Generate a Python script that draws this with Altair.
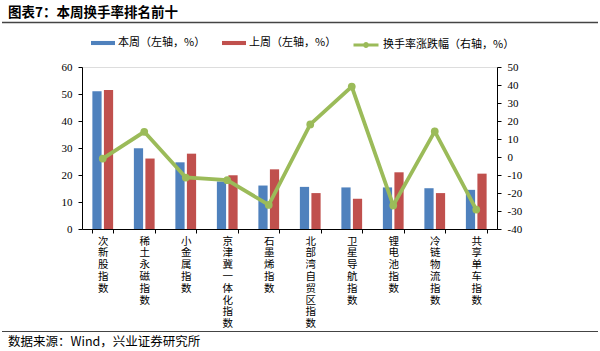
import altair as alt
import pandas as pd

# ---- data ----
categories = ["次新股指数", "稀土永磁指数", "小金属指数", "京津冀一体化指数", "石墨烯指数",
              "北部湾自贸区指数", "卫星导航指数", "锂电池指数", "冷链物流指数", "共享单车指数"]
this_week = [51.0, 29.9, 24.7, 17.6, 16.1, 15.6, 15.4, 15.4, 15.1, 14.5]
last_week = [51.5, 26.1, 27.9, 19.9, 22.1, 13.3, 11.2, 21.0, 13.3, 20.5]
change = [-0.9, 14.0, -11.4, -12.9, -26.6, 18.1, 39.1, -26.9, 14.2, -29.2]

series_names = ["本周（左轴，%）", "上周（左轴，%）"]
line_name = "换手率涨跌幅（右轴，%）"
left_ticks = [0, 10, 20, 30, 40, 50, 60]
right_ticks = [-40, -30, -20, -10, 0, 10, 20, 30, 40, 50]
title_text = "图表7：本周换手率排名前十"
source_text = "数据来源：Wind，兴业证券研究所"

BLUE, RED, GREEN = "#4F81BD", "#C0504D", "#9BBB59"
CJK = "Noto Sans CJK SC"
SERIF = "Liberation Serif"

bars_df = pd.DataFrame({
    "cat": categories * 2,
    "series": [series_names[0]] * len(categories) + [series_names[1]] * len(categories),
    "value": this_week + last_week,
})
line_df = pd.DataFrame({"cat": categories, "change": change, "ls": [line_name] * len(categories)})

x_axis = alt.Axis(title=None, labelExpr="split(datum.label, '')", labelAngle=0,
                  labelFont=CJK, labelFontSize=10.5, labelLineHeight=11.8, labelColor="#000",
                  labelBaseline="top", labelPadding=3, tickBand="extent", tickSize=4,
                  domainColor="#000", tickColor="#000", labelOverlap=False, labelBound=False)
x_enc = alt.X("cat:N", sort=categories, axis=x_axis,
              scale=alt.Scale(paddingInner=0.5, paddingOuter=0.25))

rect_path = "M-1,-0.17H1V0.17H-1Z"
line_path = "M-1,0H1M-0.12,0A0.12,0.12 0 1,1 0.12,0A0.12,0.12 0 1,1 -0.12,0"

bars = alt.Chart(bars_df).mark_bar().encode(
    x=x_enc,
    xOffset=alt.XOffset("series:N", sort=series_names, scale=alt.Scale(paddingInner=0.2)),
    y=alt.Y("value:Q", scale=alt.Scale(domain=[0, 60]),
            axis=alt.Axis(title=None, values=left_ticks, labelFont=SERIF, labelFontSize=11,
                          labelColor="#000", tickSize=4, labelPadding=6,
                          domainColor="#000", tickColor="#000", grid=False)),
    color=alt.Color("series:N", sort=series_names,
                    scale=alt.Scale(domain=series_names, range=[BLUE, RED]),
                    legend=alt.Legend(orient="none", legendX=9, legendY=-36, direction="horizontal",
                                      title=None, symbolType=rect_path, symbolSize=576,
                                      symbolStrokeWidth=0, labelFont=CJK, labelFontSize=11,
                                      labelColor="#000", labelOffset=3, columnPadding=16)),
)

line_base = alt.Chart(line_df).encode(
    x=x_enc,
    y=alt.Y("change:Q", scale=alt.Scale(domain=[-40, 50]),
            axis=alt.Axis(title=None, orient="right", values=right_ticks, labelFont=SERIF,
                          labelFontSize=11, labelColor="#000", tickSize=4, labelPadding=6,
                          labelExpr="datum.value + ''",
                          domainColor="#000", tickColor="#000", grid=False)),
)
line = line_base.mark_line(strokeWidth=3.8).encode(
    color=alt.Color("ls:N", scale=alt.Scale(domain=[line_name], range=[GREEN]),
                    legend=alt.Legend(orient="none", legendX=270, legendY=-36, title=None,
                                      symbolType=line_path, symbolSize=625, symbolStrokeWidth=3,
                                      labelFont=CJK, labelFontSize=11, labelColor="#000",
                                      labelOffset=3)),
)
points = line_base.mark_point(filled=True, size=60, opacity=1).encode(color=alt.value(GREEN))
line_layer = alt.layer(line, points)

one = pd.DataFrame({"t": [title_text], "s": [source_text]})
title = alt.Chart(one).mark_text(align="left", baseline="middle", font=CJK, fontSize=13.5,
                                 fontWeight="bold", color="#000").encode(
    text="t:N", x=alt.value(-74), y=alt.value(-54))
source = alt.Chart(one).mark_text(align="left", baseline="middle", font=CJK, fontSize=12.5,
                                  color="#000").encode(
    text="s:N", x=alt.value(-74), y=alt.value(275))
top_rule = alt.Chart(one).mark_rule(color="#444", strokeWidth=1.5).encode(
    x=alt.value(-80), x2=alt.value(516), y=alt.value(-44.5))
bottom_rule = alt.Chart(one).mark_rule(color="#444", strokeWidth=1.2).encode(
    x=alt.value(-80), x2=alt.value(516), y=alt.value(264.5))

chart = alt.layer(bars, line_layer, title, source, top_rule, bottom_rule).resolve_scale(
    y="independent", color="independent"
).resolve_legend(color="independent").properties(
    width=415, height=162,
    autosize=alt.AutoSizeParams(type="none"),
    padding={"left": 82, "top": 67, "right": 103, "bottom": 122},
).configure_view(stroke=None).configure(background="white")

chart.save("out.html", embed_options={"renderer": "svg", "actions": False})
